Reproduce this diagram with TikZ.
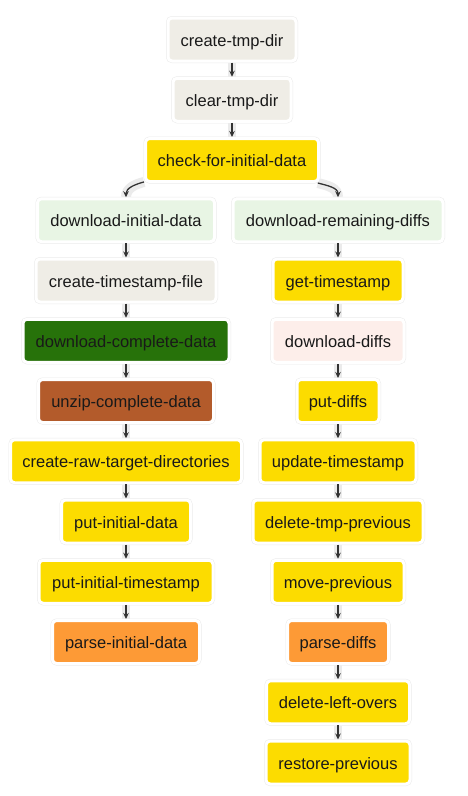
\documentclass[tikz,border=0pt]{standalone}
\usepackage{fontspec}
\setmainfont{Liberation Sans}
\usetikzlibrary{arrows.meta,backgrounds}

\definecolor{beige}{HTML}{EFEDE6}
\definecolor{gold}{HTML}{FCDC00}
\definecolor{mint}{HTML}{E8F5E4}
\definecolor{forest}{HTML}{27720A}
\definecolor{rust}{HTML}{B35B2B}
\definecolor{tangerine}{HTML}{FD9A36}
\definecolor{blush}{HTML}{FDEEEA}
\definecolor{ink}{HTML}{333333}
\definecolor{band}{HTML}{EBEBEB}

\tikzset{
  task/.style={rectangle, rounded corners=4pt, draw=white, line width=3pt,
    preaction={draw=black!8, line width=4pt},
    minimum height=43pt, inner sep=0pt, text=black!90,
    text height=14pt, text depth=1pt,
    font=\fontsize{16.5}{19}\selectfont},
  edgeband/.style={draw=band, line width=8pt},
  edgearrow/.style={draw=ink, line width=1.3pt, -{Stealth[length=6pt,width=5.5pt]}},
}

\begin{document}
\begin{tikzpicture}[x=1pt,y=-1pt]
\useasboundingbox (0,0) rectangle (468,796);

% shared trunk
\node[task, fill=beige, minimum width=128pt] (ctd) at (232,39.5) {create-tmp-dir};
\node[task, fill=beige, minimum width=118pt] (clr) at (232,99.75) {clear-tmp-dir};
\node[task, fill=gold, minimum width=173pt] (chk) at (232,160) {check-for-initial-data};

% initial-data branch
\node[task, fill=mint, minimum width=177pt] (dini) at (126,220.25) {download-initial-data};
\node[task, fill=beige, minimum width=180pt] (cts) at (126,280.5) {create-timestamp-file};
\node[task, fill=forest, minimum width=206pt] (dcd) at (126,340.75) {download-complete-data};
\node[task, fill=rust, minimum width=175pt] (uzp) at (126,401) {unzip-complete-data};
\node[task, fill=gold, minimum width=231pt] (crt) at (126,461.25) {create-raw-target-directories};
\node[task, fill=gold, minimum width=129pt] (pid) at (126,521.5) {put-initial-data};
\node[task, fill=gold, minimum width=174pt] (pit) at (126,581.75) {put-initial-timestamp};
\node[task, fill=tangerine, minimum width=147pt] (pind) at (126,642) {parse-initial-data};

% diffs branch
\node[task, fill=mint, minimum width=210pt] (drd) at (338,220.25) {download-remaining-diffs};
\node[task, fill=gold, minimum width=130pt] (gts) at (338,280.5) {get-timestamp};
\node[task, fill=blush, minimum width=132pt] (ddf) at (338,340.75) {download-diffs};
\node[task, fill=gold, minimum width=82pt] (pdf) at (338,401) {put-diffs};
\node[task, fill=gold, minimum width=156pt] (uts) at (338,461.25) {update-timestamp};
\node[task, fill=gold, minimum width=170pt] (dtp) at (338,521.5) {delete-tmp-previous};
\node[task, fill=gold, minimum width=132pt] (mvp) at (338,581.75) {move-previous};
\node[task, fill=tangerine, minimum width=101pt] (prd) at (338,642) {parse-diffs};
\node[task, fill=gold, minimum width=143pt] (dlo) at (338,702.25) {delete-left-overs};
\node[task, fill=gold, minimum width=144pt] (rsp) at (338,762.5) {restore-previous};

\begin{scope}[on background layer]
  \fill[white] (0,0) rectangle (468,796);
  \foreach \a/\b in {ctd/clr, clr/chk,
      dini/cts, cts/dcd, dcd/uzp, uzp/crt, crt/pid, pid/pit, pit/pind,
      drd/gts, gts/ddf, ddf/pdf, pdf/uts, uts/dtp, dtp/mvp, mvp/prd, prd/dlo, dlo/rsp} {
    \draw[edgeband] (\a) -- (\b);
  }
  \draw[edgeband, line width=10pt] (chk.-166) to[out=-165, in=90] (dini.north);
  \draw[edgeband, line width=10pt] (chk.-15) to[out=-15, in=90] (drd.north);
\end{scope}

\foreach \a/\b in {ctd/clr, clr/chk,
    dini/cts, cts/dcd, dcd/uzp, uzp/crt, crt/pid, pid/pit, pit/pind,
    drd/gts, gts/ddf, ddf/pdf, pdf/uts, uts/dtp, dtp/mvp, mvp/prd, prd/dlo, dlo/rsp} {
  \draw[edgearrow] (\a) -- (\b);
}
\draw[edgearrow] (chk.-166) to[out=-165, in=90] (dini.north);
\draw[edgearrow] (chk.-15) to[out=-15, in=90] (drd.north);
\end{tikzpicture}
\end{document}
